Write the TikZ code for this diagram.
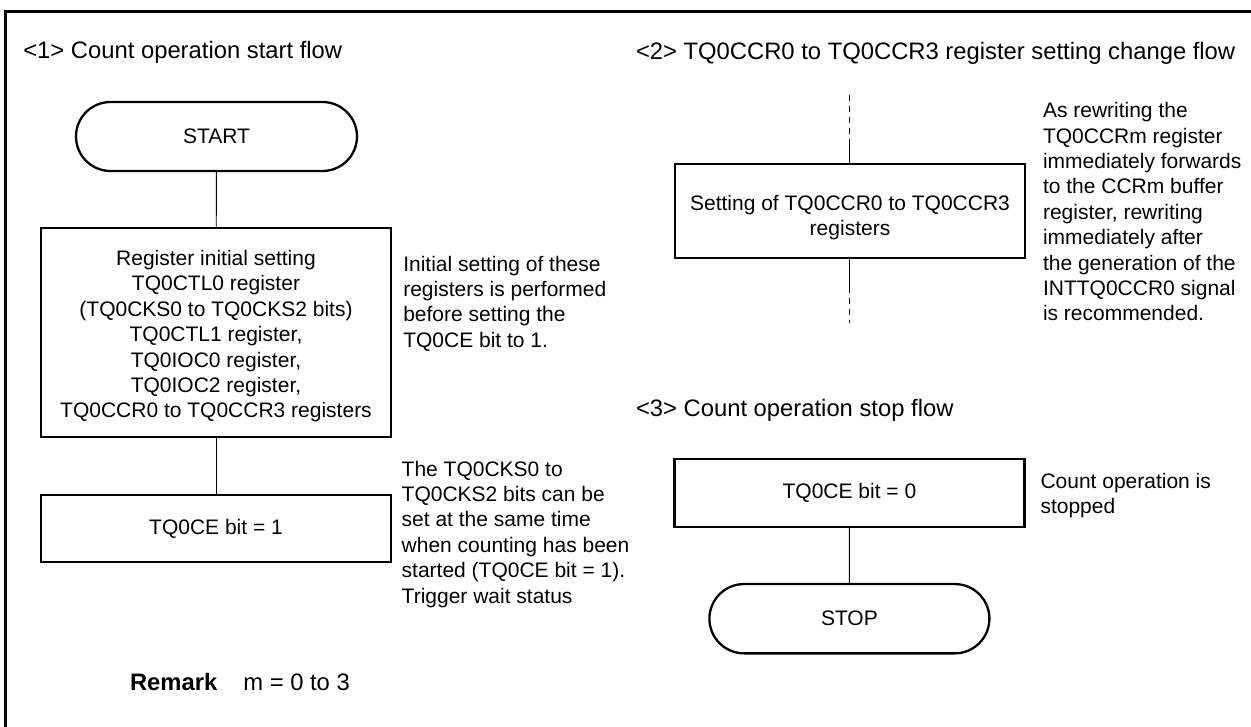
\documentclass[tikz,border=0pt]{standalone}
\usepackage{fontspec}
\setmainfont{Liberation Sans}
\usetikzlibrary{shapes.misc}
\begin{document}
\begin{tikzpicture}[x=1pt,y=-1pt,
  every node/.style={inner sep=0pt, outer sep=0pt},
  bodyfont/.style={font=\fontsize{21}{25.4}\selectfont},
  titlefont/.style={anchor=base west, font=\fontsize{23.8}{28}\selectfont},
  procbox/.style={draw, line width=2.3pt, minimum width=350pt, align=center, bodyfont},
  term/.style={draw, rounded rectangle, line width=2.3pt, minimum width=281pt, minimum height=69pt, bodyfont},
  conn/.style={line width=0.9pt},
  dashconn/.style={line width=0.9pt, dash pattern=on 6pt off 5pt},
  note/.style={anchor=north west, align=left, bodyfont},
]
\useasboundingbox (0,0) rectangle (1251,727);
% frame
\draw[line width=2.7pt] (5.3,727) -- (5.3,11.3) -- (1251,11.3);

% titles
\node[titlefont] (t1) at (23.3,58.8) {<1> Count operation start flow};
\node[titlefont] (t2) at (636,59.3) {<2> TQ0CCR0 to TQ0CCR3 register setting change flow};
\node[titlefont] (t3) at (636,417) {<3> Count operation stop flow};

% flow 1
\node[term] (start) at (216.5,136.5) {START};
\node[procbox, minimum height=208.4pt] (init) at (216,332.5) {\rule{0pt}{22.7pt}Register initial setting\\ TQ0CTL0 register\\ (TQ0CKS0 to TQ0CKS2 bits)\\ TQ0CTL1 register,\\ TQ0IOC0 register,\\ TQ0IOC2 register,\\ TQ0CCR0 to TQ0CCR3 registers};
\node[procbox, minimum height=66.7pt] (ce1) at (216,528.4) {TQ0CE bit = 1};
\draw[conn] (start) -- (init);
\draw[conn] (init) -- (ce1);

\node[note] (n1) at (403.3,255.8) {Initial setting of these\\ registers is performed\\ before setting the\\ TQ0CE bit to 1.};
\node[note] (n2) at (401.7,460.8) {The TQ0CKS0 to\\ TQ0CKS2 bits can be\\ set at the same time\\ when counting has been\\ started (TQ0CE bit = 1).\\ Trigger wait status};

\node[titlefont] (rem) at (130,690) {\textbf{Remark}\hspace{26pt}m = 0 to 3};

% flow 2
\node[procbox, minimum height=93.4pt] (ccr) at (850,211) {\rule{0pt}{28.3pt}Setting of TQ0CCR0 to TQ0CCR3\\ registers};
\coordinate (d1) at (849.5,95);
\coordinate (d2) at (849.5,140);
\coordinate (d3) at (849.5,287);
\coordinate (d4) at (849.5,323);
\draw[dashconn] (d1) -- (d2);
\draw[conn] (d2) -- (d2 |- ccr.north);
\draw[conn] (d3 |- ccr.south) -- (d3);
\draw[dashconn] (d3) -- (d4);
\node[note] (n3) at (1043,102.5) {As rewriting the\\ TQ0CCRm register\\ immediately forwards\\ to the CCRm buffer\\ register, rewriting\\ immediately after\\ the generation of the\\ INTTQ0CCR0 signal\\ is recommended.};

% flow 3
\node[procbox, minimum height=67.4pt] (ce0) at (849.4,493) {TQ0CE bit = 0};
\node[term, minimum width=280pt, minimum height=69.3pt] (stop) at (849.4,618.7) {STOP};
\draw[conn] (ce0) -- (stop);
\node[note] (n4) at (1040.5,473) {Count operation is\\ stopped};
\end{tikzpicture}
\end{document}
